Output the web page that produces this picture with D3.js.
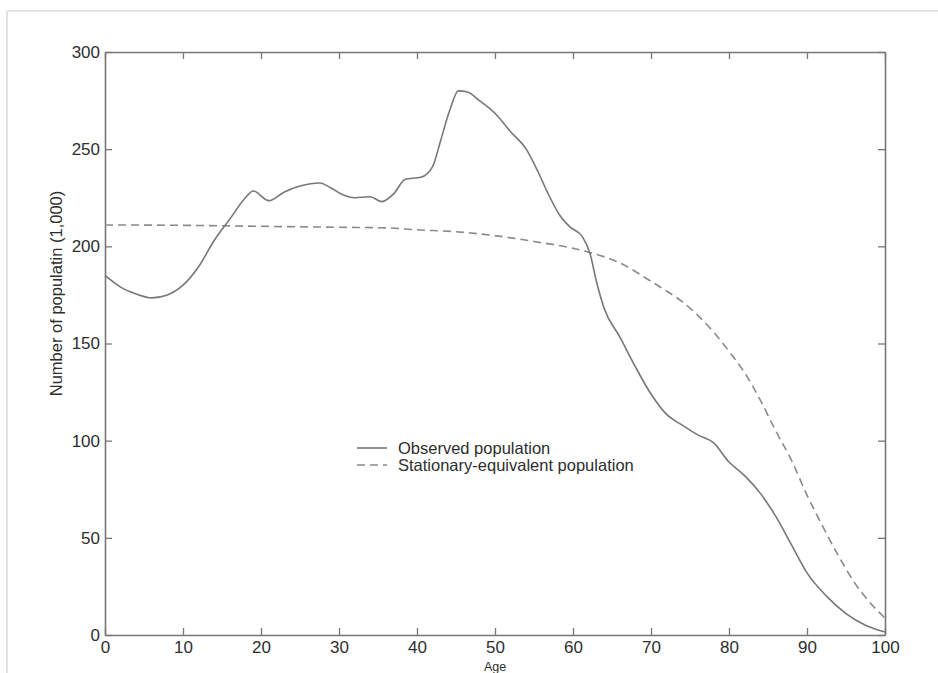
<!DOCTYPE html>
<html>
<head>
<meta charset="utf-8">
<script src="https://cdn.jsdelivr.net/npm/d3@7"></script>
<style>
  html, body { margin: 0; padding: 0; background: #fff; overflow: hidden; }
  svg { display: block; }
  text { font-family: "Liberation Sans", Arial, Helvetica, sans-serif; }
</style>
</head>
<body>
<svg id="chart" width="938" height="673"></svg>
<script>
// Observed population by single age (thousands)
const observedAge = [0, 2, 4, 6, 8, 10, 12, 14, 16, 18, 19, 21, 23, 25, 27.5, 29, 30.5, 32, 34, 35.5,
  37, 38.5, 40.5, 42, 43, 44.2, 45.3, 46.4, 48, 50, 52, 54, 55.5, 56.7, 58.3, 59.6, 61.2, 62.2, 63, 64,
  66, 68, 70, 72, 74, 76, 78, 80, 82, 84, 86, 88, 90, 92.5, 95, 97.5, 100];
const observedValue = [185, 179, 175.5, 173.5, 175, 180, 189.5, 203, 214, 225, 228.5, 223.5, 228, 231, 232.6, 230, 226.5, 225, 225.5, 223,
  227, 234.5, 235.5, 241, 254, 270, 280, 279.5, 275, 268.5, 259, 250, 238.5, 228, 216, 210, 205, 196, 182, 168,
  153.4, 138, 124, 113.5, 108, 103, 99, 89, 82, 73, 61, 46.5, 32, 20, 11, 5, 1.5];

// Stationary-equivalent population (thousands)
const stationaryAge = [0, 10, 20, 30, 36, 40, 45, 50, 55, 60, 62, 66, 70, 72, 74, 76, 78, 80, 82, 84,
  86, 88, 90, 92, 94, 96, 98, 100];
const stationaryValue = [211, 210.8, 210.3, 209.8, 209.5, 208.5, 207.5, 205.5, 202.5, 199, 197, 191.5, 182, 177, 171.5, 164.5, 156, 146, 135, 121,
  105, 90, 72, 56, 41, 27.5, 17, 8.7];

const xTicks = [0, 10, 20, 30, 40, 50, 60, 70, 80, 90, 100];
const yTicks = [0, 50, 100, 150, 200, 250, 300];
const legendLabels = ["Observed population", "Stationary-equivalent population"];

const svg = d3.select("#chart");
const margin = { left: 105, right: 53, top: 52, bottom: 38 };
const W = 938, H = 673;
const plotW = W - margin.left - margin.right;
const plotH = H - margin.top - margin.bottom;

// outer figure frame
svg.append("line").attr("x1", 7).attr("x2", W).attr("y1", 11).attr("y2", 11)
  .attr("stroke", "#e2e2e2").attr("stroke-width", 2);
svg.append("line").attr("x1", 7).attr("x2", 7).attr("y1", 11).attr("y2", H)
  .attr("stroke", "#e2e2e2").attr("stroke-width", 2);

const g = svg.append("g").attr("transform", `translate(${margin.left},${margin.top})`);

const x = d3.scaleLinear().domain([0, 100]).range([0, plotW]);
const y = d3.scaleLinear().domain([0, 300]).range([plotH, 0]);

const axisColor = "#777";
const textColor = "#2e2e2e";

function styleAxis(sel) {
  sel.select(".domain").attr("stroke", axisColor).attr("stroke-width", 1.6);
  sel.selectAll(".tick line").attr("stroke", axisColor).attr("stroke-width", 1.3);
  sel.selectAll(".tick text").attr("fill", textColor).attr("font-size", 17)
    .attr("font-family", "'Liberation Sans', Arial, sans-serif");
}

// bottom + left axes with labels, inward ticks
g.append("g").attr("transform", `translate(0,${plotH})`)
  .call(d3.axisBottom(x).tickValues(xTicks).tickSize(-7).tickSizeOuter(0).tickPadding(6))
  .call(styleAxis);
g.append("g")
  .call(d3.axisLeft(y).tickValues(yTicks).tickSize(-7).tickSizeOuter(0).tickPadding(5))
  .call(styleAxis);
// top + right axes, ticks only
g.append("g")
  .call(d3.axisTop(x).tickValues(xTicks).tickSize(-7).tickSizeOuter(0).tickFormat(""))
  .call(styleAxis);
g.append("g").attr("transform", `translate(${plotW},0)`)
  .call(d3.axisRight(y).tickValues(yTicks).tickSize(-7).tickSizeOuter(0).tickFormat(""))
  .call(styleAxis);

// series
const lineGen = d3.line()
  .x(d => x(d[0]))
  .y(d => y(d[1]))
  .curve(d3.curveMonotoneX);

const observed = observedAge.map((a, i) => [a, observedValue[i]]);
const stationary = stationaryAge.map((a, i) => [a, stationaryValue[i]]);

g.append("path").datum(stationary)
  .attr("d", lineGen).attr("fill", "none")
  .attr("stroke", "#8a8a8a").attr("stroke-width", 1.6)
  .attr("stroke-dasharray", "8,5");
g.append("path").datum(observed)
  .attr("d", lineGen).attr("fill", "none")
  .attr("stroke", "#777").attr("stroke-width", 1.6);

// axis titles
svg.append("text")
  .attr("transform", `translate(62,${margin.top + y(150) - 50}) rotate(-90)`)
  .attr("text-anchor", "middle").attr("font-size", 16.5).attr("fill", textColor)
  .text("Number of populatin (1,000)");
svg.append("text")
  .attr("x", margin.left + x(50)).attr("y", 670.5)
  .attr("text-anchor", "middle").attr("font-size", 12.5).attr("fill", textColor)
  .text("Age");

// legend
const legend = svg.append("g").attr("transform", "translate(357,448)");
legendLabels.forEach((label, i) => {
  const row = legend.append("g").attr("transform", `translate(0,${i * 17})`);
  row.append("line").attr("x1", 0).attr("x2", 30).attr("y1", 0).attr("y2", 0)
    .attr("stroke", i === 0 ? "#777" : "#8a8a8a").attr("stroke-width", 1.6)
    .attr("stroke-dasharray", i === 0 ? null : "8,5");
  row.append("text").attr("x", 41).attr("y", 6)
    .attr("font-size", 16.5).attr("fill", textColor)
    .text(label);
});
</script>
</body>
</html>
